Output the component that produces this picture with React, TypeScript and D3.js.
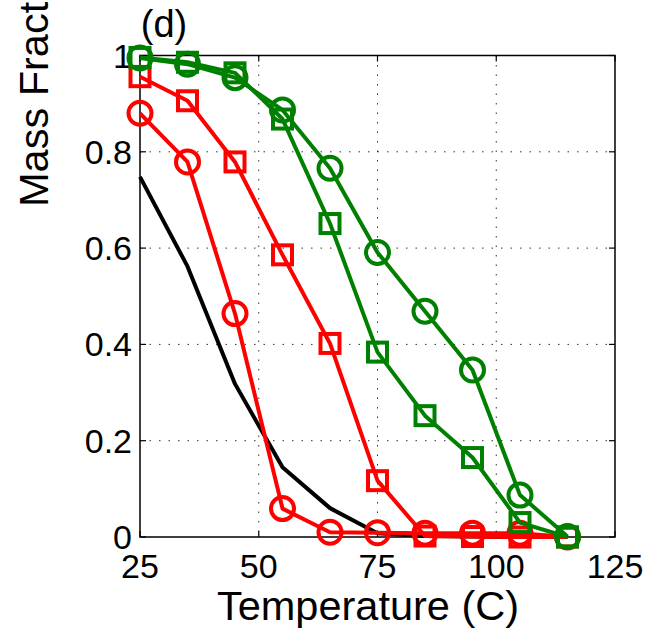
import React from "react";
import * as d3 from "d3";

const temps = [25, 35, 45, 55, 65, 75, 85, 95, 105, 115];
const blackLine = [0.748, 0.562, 0.318, 0.145, 0.06, 0.008, 0.002, 0.001, 0.0, 0.0];
const redCircles = [0.88, 0.779, 0.464, 0.059, 0.01, 0.009, 0.008, 0.008, 0.008, 0.0];
const redSquares = [0.956, 0.906, 0.779, 0.586, 0.402, 0.117, 0.002, 0.001, 0.0, 0.0];
const greenSquares = [0.996, 0.986, 0.964, 0.868, 0.651, 0.384, 0.252, 0.165, 0.03, 0.0];
const greenCircles = [0.995, 0.982, 0.954, 0.887, 0.766, 0.591, 0.469, 0.347, 0.087, 0.001];
const xTicks = [25, 50, 75, 100, 125];
const yTicks = [0, 0.2, 0.4, 0.6, 0.8, 1];
const xGrid = [50, 75, 100];
const yGrid = [0.2, 0.4, 0.6, 0.8];

const W = 651, H = 632;
const L = 140, R = 615, T = 55.5, B = 537;
const FONT = "'Liberation Sans', Arial, Helvetica, sans-serif";

export default function App() {
  const x = d3.scaleLinear().domain([25, 125]).range([L, R]);
  const y = d3.scaleLinear().domain([0, 1]).range([B, T]);
  const line = d3.line<[number, number]>().x(d => x(d[0])).y(d => y(d[1]));
  const pts = (vals: number[]) => temps.map((t, i) => [t, vals[i]] as [number, number]);
  const lw = 4;
  const r = 11.5;
  const s = 19;

  const series = [
    { vals: blackLine, color: "#000000", marker: "none" },
    { vals: redSquares, color: "#ff0000", marker: "square" },
    { vals: redCircles, color: "#ff0000", marker: "circle" },
    { vals: greenSquares, color: "#008000", marker: "square" },
    { vals: greenCircles, color: "#008000", marker: "circle" },
  ];

  return (
    <svg width={W} height={H} style={{ position: "absolute", left: 0, top: 0, background: "#fff" }} fontFamily={FONT}>
      <rect x={0} y={0} width={W} height={H} fill="#fff" />
      {xGrid.map(v => (
        <line key={"gx" + v} x1={x(v)} x2={x(v)} y1={T} y2={B} stroke="#333" strokeWidth={1} strokeDasharray="1.5 8" />
      ))}
      {yGrid.map(v => (
        <line key={"gy" + v} x1={L} x2={R} y1={y(v)} y2={y(v)} stroke="#333" strokeWidth={1} strokeDasharray="1.5 8" />
      ))}
      <rect x={L} y={T} width={R - L} height={B - T} fill="none" stroke="#000" strokeWidth={1.5} />
      {xTicks.map(v => (
        <g key={"tx" + v}>
          <line x1={x(v)} x2={x(v)} y1={B} y2={B - 6} stroke="#000" strokeWidth={1.2} />
          <line x1={x(v)} x2={x(v)} y1={T} y2={T + 6} stroke="#000" strokeWidth={1.2} />
          <text x={x(v)} y={578} fontSize={34} textAnchor="middle" fill="#000">{v}</text>
        </g>
      ))}
      {yTicks.map(v => (
        <g key={"ty" + v}>
          <line x1={L} x2={L + 6} y1={y(v)} y2={y(v)} stroke="#000" strokeWidth={1.2} />
          <line x1={R} x2={R - 6} y1={y(v)} y2={y(v)} stroke="#000" strokeWidth={1.2} />
          <text x={132} y={y(v) + 12} fontSize={34} textAnchor="end" fill="#000">{String(v)}</text>
        </g>
      ))}
      {series.map((sr, si) => (
        <g key={"s" + si}>
          <path d={line(pts(sr.vals)) || ""} fill="none" stroke={sr.color} strokeWidth={lw} strokeLinejoin="round" />
          {sr.marker === "circle" && pts(sr.vals).map((p, i) => (
            <circle key={i} cx={x(p[0])} cy={y(p[1])} r={r} fill="none" stroke={sr.color} strokeWidth={lw} />
          ))}
          {sr.marker === "square" && pts(sr.vals).map((p, i) => (
            <rect key={i} x={x(p[0]) - s / 2} y={y(p[1]) - s / 2} width={s} height={s} fill="none" stroke={sr.color} strokeWidth={lw} />
          ))}
        </g>
      ))}
      <text x={368} y={620} fontSize={41.5} textAnchor="middle" fill="#000">Temperature (C)</text>
      <text transform="translate(48,207) rotate(-90)" fontSize={41.5} textAnchor="start" fill="#000">Mass Fraction</text>
      <text x={164} y={37} fontSize={38} textAnchor="middle" fill="#000">(d)</text>
    </svg>
  );
}
